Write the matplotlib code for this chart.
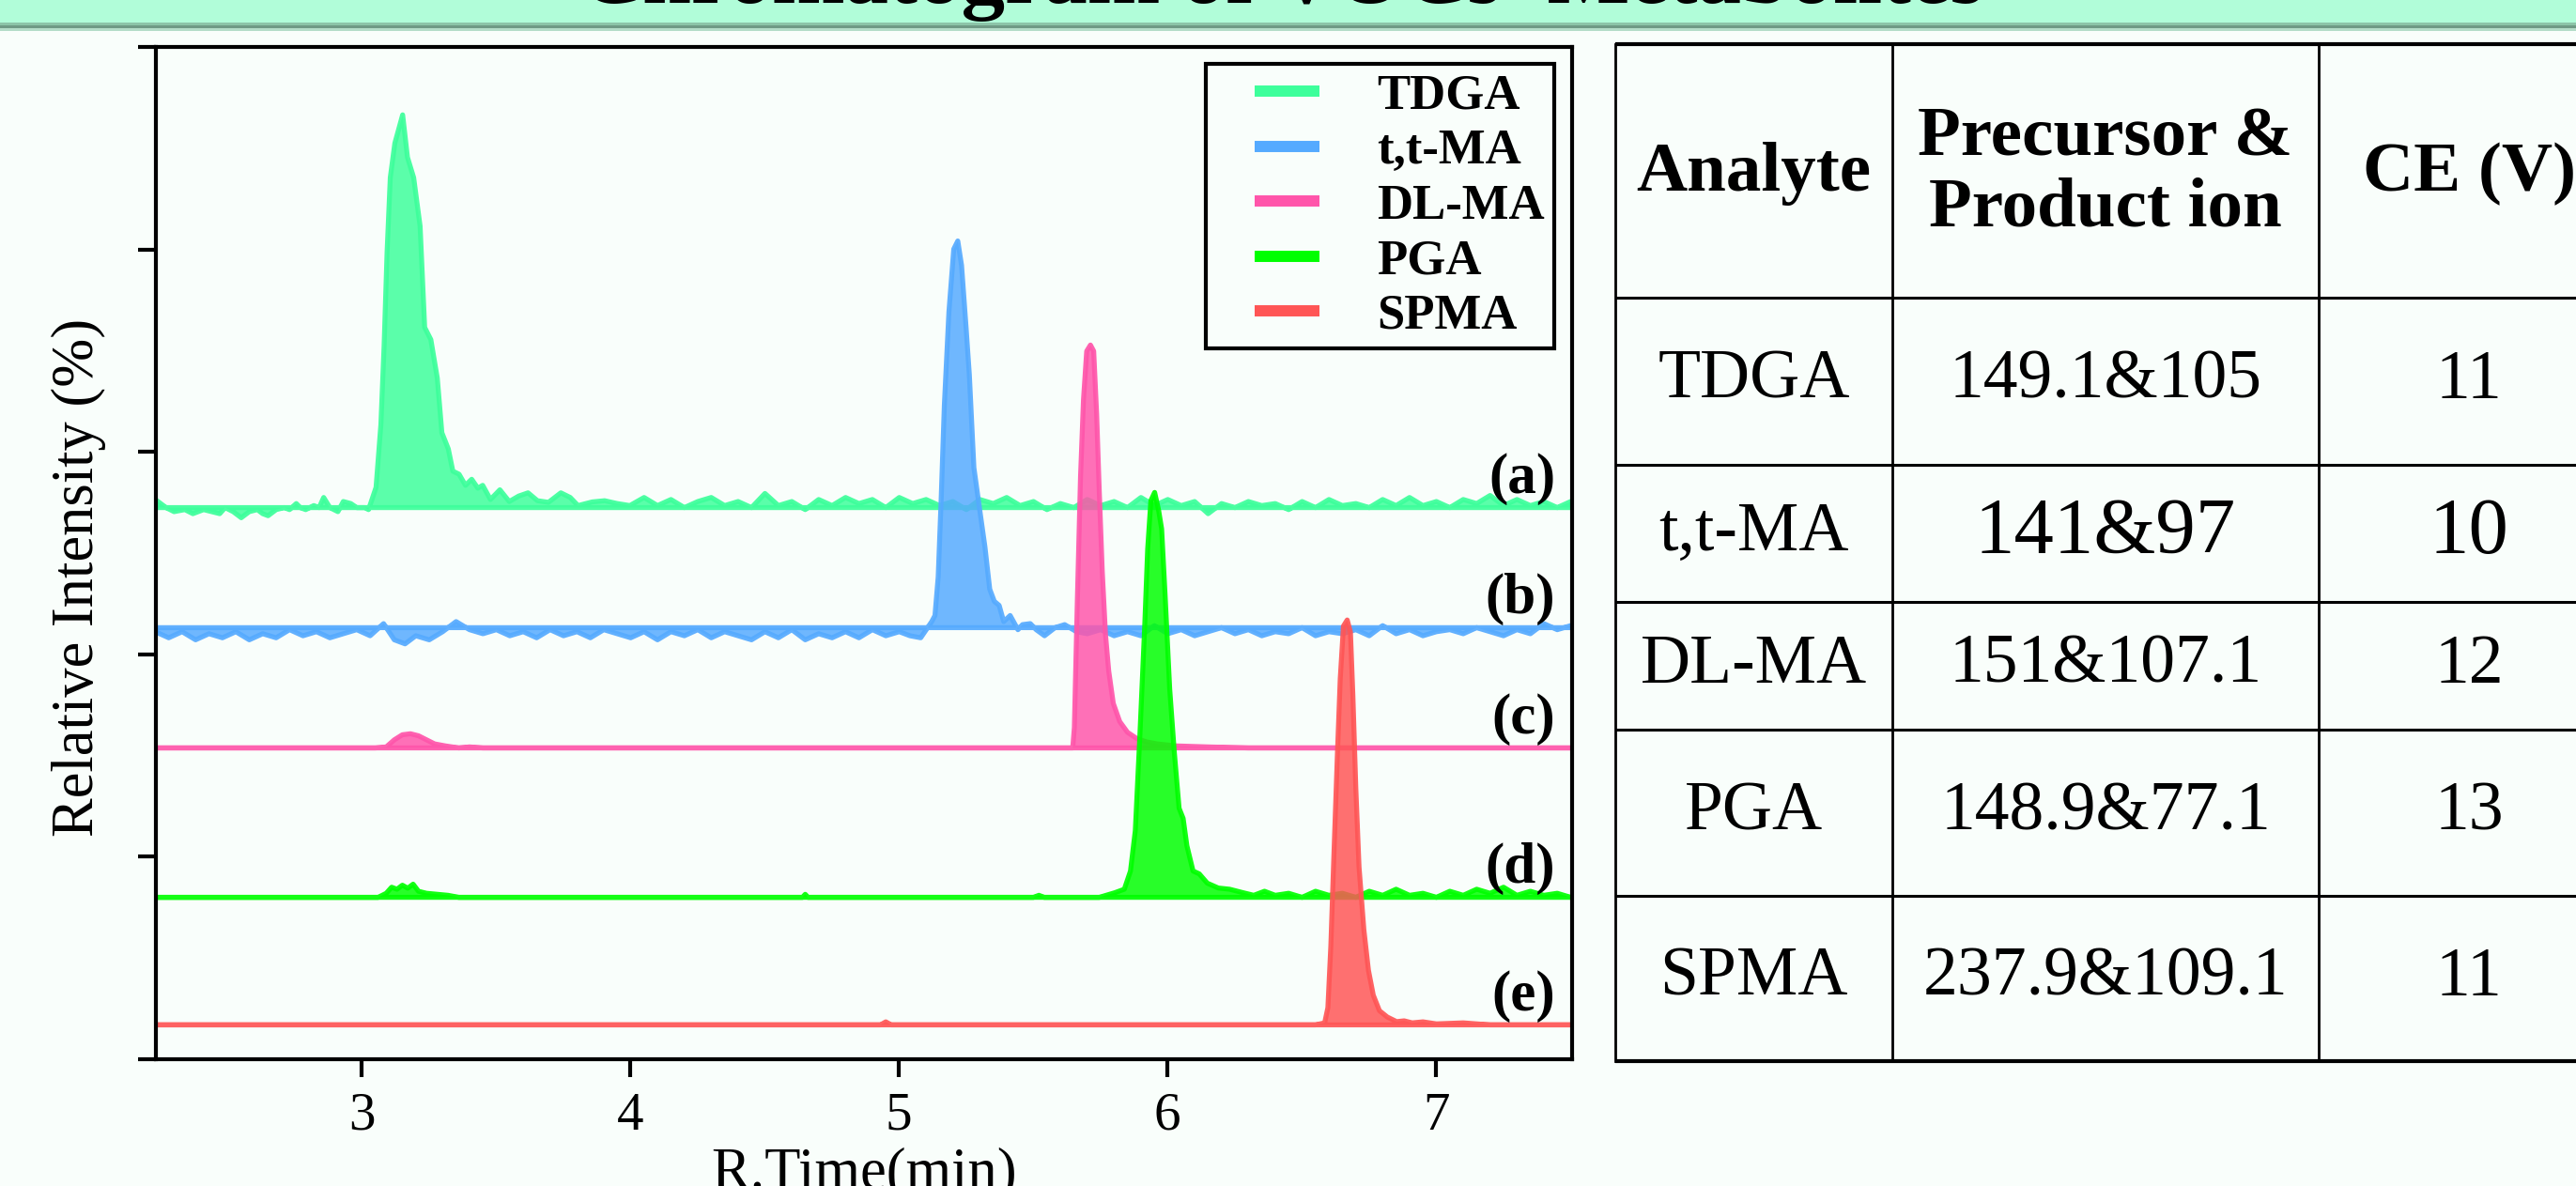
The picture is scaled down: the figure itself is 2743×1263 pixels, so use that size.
import numpy as np
import matplotlib
matplotlib.use('Agg')
import matplotlib.pyplot as plt
from matplotlib.patches import Rectangle
from matplotlib.lines import Line2D
from matplotlib.legend_handler import HandlerLine2D

plt.rcParams['font.family'] = ['Liberation Serif', 'DejaVu Serif']

# ---------------- data ----------------
analytes = ['TDGA', 't,t-MA', 'DL-MA', 'PGA', 'SPMA']
trace_labels = ['(a)', '(b)', '(c)', '(d)', '(e)']
colors = ['#3dff9b', '#55aaff', '#ff55aa', '#00ff00', '#ff5555']
baselines = [2.727, 2.134, 1.540, 0.802, 0.172]
x_ticks = [3, 4, 5, 6, 7]
y_ticks = [0, 1, 2, 3, 4, 5]

tdga_t = [2.23, 2.27, 2.30, 2.34, 2.37, 2.41, 2.44, 2.47, 2.49, 2.52, 2.55, 2.58, 2.61, 2.63,
          2.65, 2.68, 2.71, 2.73, 2.755, 2.77, 2.79, 2.82, 2.84, 2.857, 2.88, 2.91, 2.93, 2.958,
          2.98, 3.01, 3.024,
          3.052, 3.070, 3.082, 3.093, 3.105, 3.122, 3.151, 3.169, 3.192, 3.216, 3.233, 3.256,
          3.280, 3.297, 3.321, 3.338, 3.361, 3.385, 3.408, 3.431, 3.449, 3.478, 3.513, 3.548,
          3.583, 3.618, 3.653, 3.694, 3.740, 3.775, 3.804, 3.857, 3.903, 3.950, 3.997,
          4.05, 4.10, 4.15, 4.20, 4.25, 4.30, 4.35, 4.40, 4.45, 4.50, 4.55, 4.60, 4.65, 4.70,
          4.75, 4.80, 4.85, 4.90, 4.95, 5.00, 5.05, 5.10, 5.15, 5.20, 5.25, 5.30, 5.35, 5.40,
          5.45, 5.50, 5.55, 5.60, 5.65, 5.70, 5.75, 5.80, 5.85, 5.90, 5.95, 6.00, 6.05, 6.10,
          6.15, 6.20, 6.25, 6.30, 6.35, 6.40, 6.45, 6.50, 6.55, 6.60, 6.65, 6.70, 6.75, 6.80,
          6.85, 6.90, 6.95, 7.00, 7.05, 7.10, 7.15, 7.20, 7.25, 7.30, 7.35, 7.40, 7.45, 7.50]
tdga_h = [0.04, 0.0, -0.02, -0.01, -0.03, -0.01, -0.02, -0.03, 0.0, -0.02, -0.05, -0.02, -0.01, -0.03,
          -0.04, -0.01, 0.0, -0.01, 0.02, 0.0, -0.01, 0.01, 0.0, 0.05, 0.0, -0.02, 0.03, 0.02,
          0.0, 0.0, -0.01,
          0.10, 0.41, 0.80, 1.26, 1.63, 1.80, 1.94, 1.73, 1.63, 1.39, 0.89, 0.83,
          0.64, 0.37, 0.29, 0.18, 0.165, 0.11, 0.14, 0.096, 0.11, 0.04, 0.088, 0.03,
          0.057, 0.073, 0.034, 0.026, 0.073, 0.05, 0.01, 0.028, 0.034, 0.02, 0.01,
          0.05, 0.01, 0.04, 0.0, 0.03, 0.05, 0.01, 0.03, 0.0, 0.07, 0.01, 0.03, -0.01, 0.04,
          0.01, 0.05, 0.02, 0.04, 0.0, 0.05, 0.02, 0.04, 0.01, 0.03, -0.01, 0.04, 0.02, 0.05,
          0.01, 0.03, -0.01, 0.02, 0.0, 0.04, 0.01, 0.03, 0.0, 0.05, 0.01, 0.04, 0.01, 0.03,
          -0.03, 0.02, 0.0, 0.03, 0.01, 0.02, -0.01, 0.03, 0.0, 0.04, 0.01, 0.02, 0.0, 0.04,
          0.01, 0.05, 0.01, 0.03, 0.0, 0.04, 0.02, 0.06, 0.01, 0.04, 0.01, 0.03, 0.0, 0.03]

ttma_t = [2.23, 2.28, 2.33, 2.38, 2.43, 2.48, 2.53, 2.58, 2.63, 2.68, 2.73, 2.78, 2.83, 2.88,
          2.93, 2.98, 3.03, 3.08, 3.12, 3.16, 3.20, 3.25, 3.30, 3.35, 3.40, 3.45, 3.50, 3.55,
          3.60, 3.65, 3.70, 3.75, 3.80, 3.85, 3.90, 3.95, 4.00, 4.05, 4.10, 4.15, 4.20, 4.25,
          4.30, 4.35, 4.40, 4.45, 4.50, 4.55, 4.60, 4.65, 4.70, 4.75, 4.80, 4.85, 4.90, 4.95,
          5.00, 5.04, 5.08,
          5.121, 5.133, 5.145, 5.156, 5.168, 5.185, 5.203, 5.218, 5.232, 5.249, 5.261, 5.278,
          5.302, 5.319, 5.337, 5.354, 5.372, 5.389, 5.413, 5.442, 5.459, 5.488, 5.51, 5.541,
          5.58, 5.616, 5.66,
          5.70, 5.75, 5.80, 5.85, 5.90, 5.95, 6.00, 6.05, 6.10, 6.15, 6.20, 6.25, 6.30, 6.35,
          6.40, 6.45, 6.50, 6.55, 6.60, 6.65, 6.70, 6.75, 6.80, 6.85, 6.90, 6.95, 7.00, 7.05,
          7.10, 7.15, 7.20, 7.25, 7.30, 7.35, 7.40, 7.45, 7.50]
ttma_h = [-0.02, -0.05, -0.02, -0.06, -0.03, -0.05, -0.02, -0.06, -0.03, -0.05, -0.01, -0.04, -0.02, -0.05,
          -0.03, -0.01, -0.04, 0.02, -0.06, -0.08, -0.04, -0.06, -0.02, 0.03, -0.01, -0.03, -0.01, -0.04,
          -0.02, -0.05, -0.01, -0.04, -0.02, -0.05, -0.01, -0.03, -0.05, -0.02, -0.06, -0.02, -0.04, -0.01,
          -0.05, -0.02, -0.04, -0.06, -0.02, -0.05, -0.01, -0.06, -0.03, -0.05, -0.02, -0.05, -0.01, -0.04,
          -0.02, -0.04, -0.05,
          0.03, 0.06, 0.25, 0.63, 1.10, 1.56, 1.87, 1.91, 1.79, 1.48, 1.25, 0.79,
          0.56, 0.40, 0.19, 0.13, 0.11, 0.03, 0.06, -0.01, 0.015, 0.02, -0.01, -0.04,
          0.0, 0.015, -0.02,
          -0.03, -0.01, -0.04, -0.02, -0.04, 0.01, -0.03, -0.01, -0.04, -0.02, 0.0, -0.03, -0.01, -0.04,
          -0.02, -0.03, 0.0, -0.04, -0.02, -0.03, -0.01, -0.04, 0.01, -0.03, -0.01, -0.04, -0.02, -0.01,
          -0.03, 0.0, -0.02, -0.04, -0.01, -0.03, 0.02, -0.01, 0.01]

dlma_t = [2.23, 3.05, 3.09, 3.12, 3.15, 3.18, 3.21, 3.24, 3.27, 3.31, 3.36, 3.40, 3.45, 5.62,
          5.646, 5.652, 5.663, 5.675, 5.686, 5.698, 5.712, 5.724, 5.735, 5.745, 5.756, 5.768,
          5.780, 5.797, 5.821, 5.850, 5.885, 5.920, 5.960, 6.030, 6.150, 6.300, 7.50]
dlma_h = [0.0, 0.0, 0.005, 0.04, 0.065, 0.07, 0.06, 0.04, 0.02, 0.01, 0.0, 0.005, 0.0, 0.0,
          0.0, 0.10, 0.72, 1.34, 1.72, 1.96, 1.99, 1.96, 1.65, 1.26, 0.87, 0.56,
          0.38, 0.22, 0.13, 0.077, 0.046, 0.03, 0.02, 0.01, 0.005, 0.0, 0.0]

pga_t = [2.23, 3.06, 3.09, 3.11, 3.13, 3.15, 3.17, 3.19, 3.21, 3.24, 3.28, 3.32, 3.36, 4.64,
         4.65, 4.66, 5.50, 5.52, 5.54, 5.745, 5.803, 5.838, 5.861, 5.879, 5.896, 5.914, 5.925,
         5.937, 5.951, 5.966, 5.977, 5.990, 6.007, 6.024, 6.042, 6.057, 6.071, 6.094, 6.117,
         6.147, 6.188, 6.23, 6.28, 6.32, 6.36, 6.40, 6.45, 6.50, 6.55, 6.60, 6.65, 6.70, 6.75,
         6.80, 6.85, 6.90, 6.95, 7.00, 7.05, 7.10, 7.15, 7.20, 7.25, 7.30, 7.35, 7.40, 7.45, 7.50]
pga_h = [0.0, 0.0, 0.02, 0.05, 0.04, 0.06, 0.045, 0.065, 0.03, 0.02, 0.015, 0.01, 0.0, 0.0,
         0.015, 0.0, 0.0, 0.01, 0.0, 0.0, 0.023, 0.04, 0.13, 0.33, 0.80, 1.34, 1.72,
         1.96, 2.00, 1.91, 1.82, 1.49, 1.03, 0.72, 0.44, 0.39, 0.255, 0.13, 0.116,
         0.07, 0.046, 0.04, 0.023, 0.01, 0.03, 0.01, 0.02, 0.0, 0.03, 0.01, 0.02, 0.0, 0.03,
         0.01, 0.04, 0.01, 0.02, 0.0, 0.03, 0.01, 0.04, 0.02, 0.05, 0.01, 0.03, 0.01, 0.02, 0.0]

spma_t = [2.23, 4.93, 4.95, 4.97, 6.55, 6.584, 6.596, 6.607, 6.619, 6.631, 6.642, 6.654, 6.668,
          6.680, 6.689, 6.700, 6.712, 6.730, 6.747, 6.765, 6.788, 6.817, 6.852, 6.88, 6.91,
          6.95, 7.00, 7.10, 7.20, 7.50]
spma_h = [0.0, 0.0, 0.015, 0.0, 0.0, 0.01, 0.085, 0.39, 0.86, 1.32, 1.71, 1.97, 2.00,
          1.94, 1.63, 1.17, 0.78, 0.47, 0.27, 0.147, 0.07, 0.039, 0.016, 0.02, 0.01,
          0.015, 0.005, 0.01, 0.0, 0.0]

trace_times = [tdga_t, ttma_t, dlma_t, pga_t, spma_t]
trace_heights = [tdga_h, ttma_h, dlma_h, pga_h, spma_h]

table_header = ['Analyte', 'Precursor &\nProduct ion', 'CE (V)']
precursor_product = ['149.1&105', '141&97', '151&107.1', '148.9&77.1', '237.9&109.1']
ce_values = ['11', '10', '12', '13', '11']

# ---------------- figure ----------------
W, H = 2743, 1263
bg = '#f9fefb'
fig = plt.figure(figsize=(W / 100, H / 100), dpi=100, facecolor=bg)


def fy(y):
    return 1 - y / H


# title band
fig.patches.append(Rectangle((0, fy(24)), 1, 24 / H, transform=fig.transFigure,
                             facecolor='#b1fdd9', edgecolor='none', zorder=0))
fig.patches.append(Rectangle((0, fy(27)), 1, 3 / H, transform=fig.transFigure,
                             facecolor='#8cc4a8', edgecolor='none', zorder=0))
fig.patches.append(Rectangle((0, fy(30)), 1, 3 / H, transform=fig.transFigure,
                             facecolor='#6f9a85', edgecolor='none', zorder=0))
fig.patches.append(Rectangle((0, fy(33)), 1, 3 / H, transform=fig.transFigure,
                             facecolor='#b4dcc8', edgecolor='none', zorder=0))
fig.text(1365 / W, fy(3), "Chromatogram of VOCs' Metabolites", ha='center', va='baseline',
         fontsize=67, fontweight='bold', color='black')

# chromatogram axes
ax_l, ax_r, ax_t, ax_b = 166, 1674, 50, 1128
ax = fig.add_axes([ax_l / W, 1 - ax_b / H, (ax_r - ax_l) / W, (ax_b - ax_t) / H])
ax.set_facecolor(bg)

for t, h, base, col in zip(trace_times, trace_heights, baselines, colors):
    t = np.asarray(t)
    y = base + np.asarray(h)
    ax.fill_between(t, base, y, facecolor=matplotlib.colors.to_rgba(col, 0.84),
                    edgecolor=matplotlib.colors.to_rgba(col, 0.92), linewidth=3.8,
                    joinstyle='round')

for lab, base in zip(trace_labels, baselines):
    ax.text(7.445, base + 0.07, lab, ha='right', va='baseline', fontsize=44,
            fontweight='bold')

ax.set_xlim(2.234, 7.507)
ax.set_ylim(0, 5)
ax.set_xticks(x_ticks)
ax.set_xticklabels([str(v) for v in x_ticks])
ax.set_yticks(y_ticks)
ax.tick_params(axis='both', direction='out', length=14, width=3)
ax.tick_params(axis='x', labelsize=41, pad=11)
ax.tick_params(axis='y', labelleft=False)
for sp in ax.spines.values():
    sp.set_linewidth(3)

fig.text((ax_l + ax_r) / 2 / W, fy(1265), 'R.Time(min)', ha='center', va='baseline',
         fontsize=45)
fig.text(84 / W, fy(615), 'Relative Intensity (%)', rotation=90, ha='center', va='center',
         fontsize=45)


class OffsetLineHandler(HandlerLine2D):
    def get_xdata(self, legend, xdescent, ydescent, width, height, fontsize):
        x = np.array([-xdescent + 0.38 * width, -xdescent + width])
        return x, x


handles = [Line2D([], [], color=c, lw=8.6, solid_capstyle='butt') for c in colors]
leg = ax.legend(handles, analytes, handler_map={Line2D: OffsetLineHandler()},
                loc='upper right', bbox_to_anchor=((1655 - ax_l) / (ax_r - ax_l),
                                                  1 - (68 - ax_t) / (ax_b - ax_t)),
                prop={'weight': 'bold', 'size': 38}, frameon=True, fancybox=False,
                edgecolor='black', facecolor=bg, framealpha=1, borderpad=0.2,
                labelspacing=0.2, handlelength=2.1, handletextpad=1.15, borderaxespad=0)
leg.get_frame().set_linewidth(3)

# table
tab_l, tab_r, tab_t, tab_b = 1720, 2789, 47, 1130
tab = fig.add_axes([tab_l / W, 1 - tab_b / H, (tab_r - tab_l) / W, (tab_b - tab_t) / H])
tab.set_xlim(0, tab_r - tab_l)
tab.set_ylim(tab_b - tab_t, 0)
tab.axis('off')
col_edges = [0, 295, 749, 1069]
row_edges = [0, 270, 448, 594, 730, 907, 1083]
for i, yv in enumerate(row_edges):
    tab.plot([0, col_edges[-1]], [yv, yv], color='black',
             lw=3 if i in (0, len(row_edges) - 1) else 2.2,
             clip_on=False, solid_capstyle='butt')
for xv in col_edges:
    tab.plot([xv, xv], [0, row_edges[-1]], color='black', lw=2, clip_on=False)

col_centers = [(col_edges[i] + col_edges[i + 1]) / 2 for i in range(3)]
for j, txt in enumerate(table_header):
    tab.text(col_centers[j], (row_edges[0] + row_edges[1]) / 2 + 3, txt, ha='center',
             va='center', fontsize=54, fontweight='bold', linespacing=1.15)
for i in range(len(analytes)):
    yc = (row_edges[i + 1] + row_edges[i + 2]) / 2
    big = 61 if analytes[i] == 't,t-MA' else 53
    tab.text(col_centers[0], yc, analytes[i], ha='center', va='center', fontsize=53)
    tab.text(col_centers[1], yc, precursor_product[i], ha='center', va='center', fontsize=big)
    tab.text(col_centers[2], yc, ce_values[i], ha='center', va='center', fontsize=big)

fig.savefig('out.png', dpi=100, facecolor=bg)
